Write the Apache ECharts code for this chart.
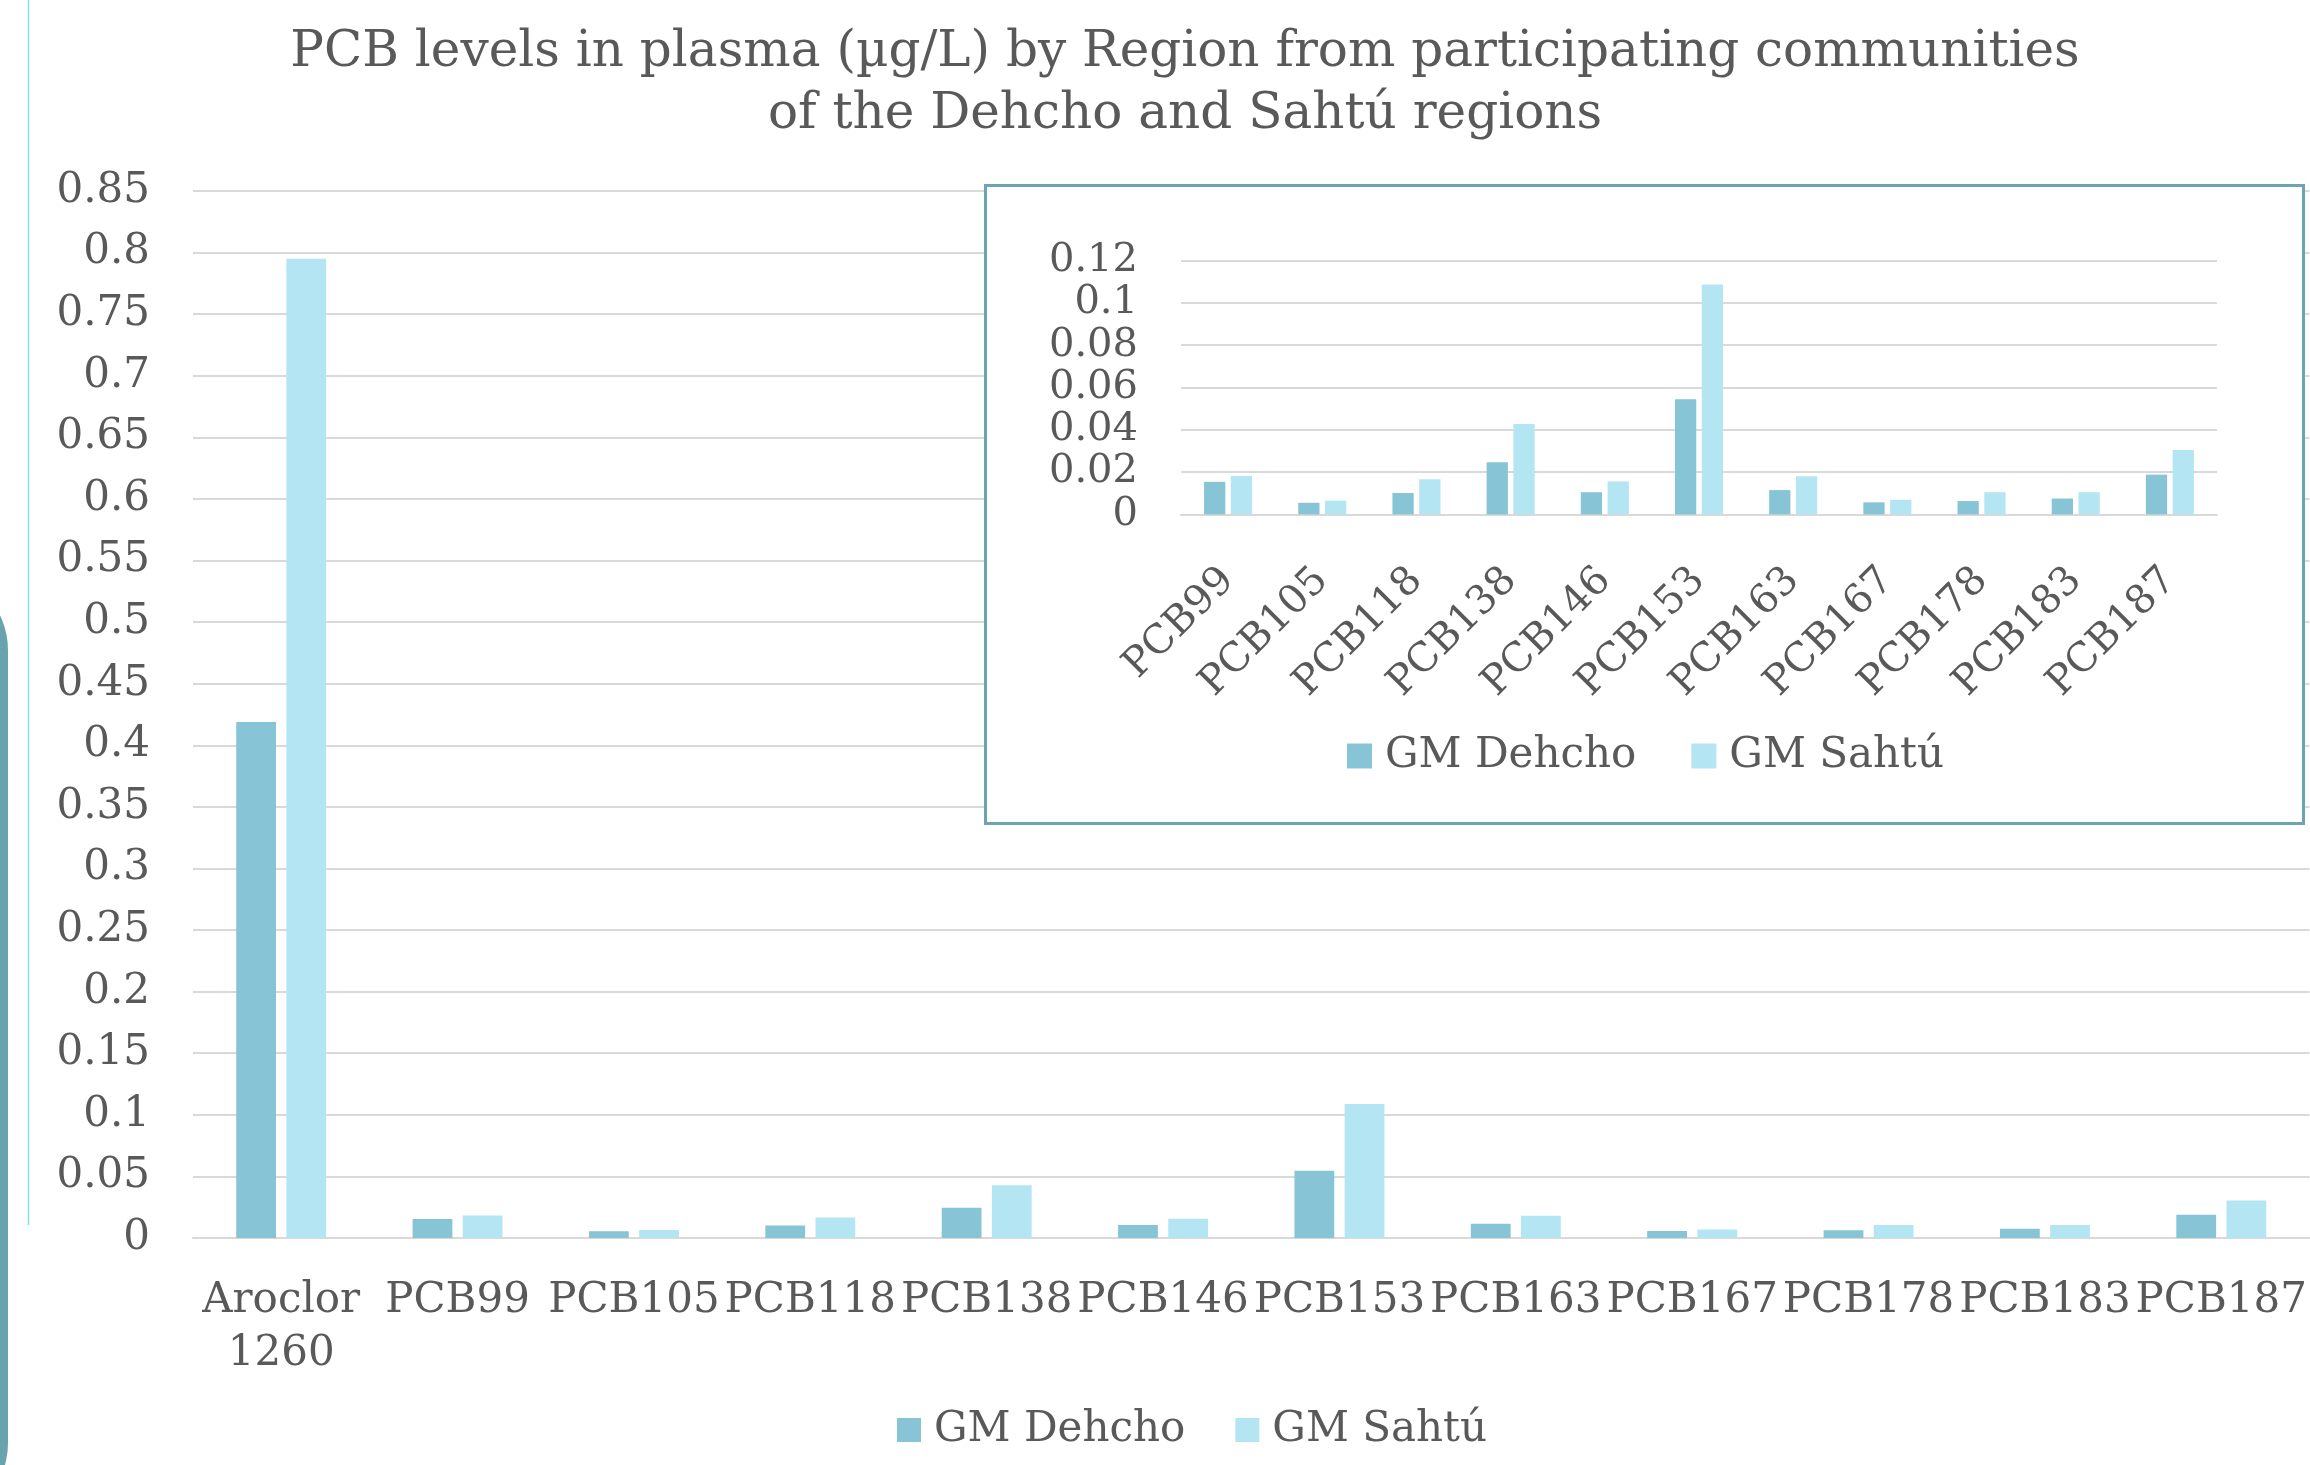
<!DOCTYPE html>
<html>
<head>
<meta charset="utf-8">
<title>PCB levels in plasma</title>
<script src="https://cdn.jsdelivr.net/npm/echarts@6/dist/echarts.min.js"></script>
<style>
  html, body { margin: 0; padding: 0; background: #ffffff; }
  #chart { width: 2310px; height: 1465px; }
</style>
</head>
<body>
<div id="chart"></div>
<script>
// Geometric means of PCB concentrations in plasma (µg/L)
const categories = ['Aroclor 1260', 'PCB99', 'PCB105', 'PCB118', 'PCB138', 'PCB146',
                    'PCB153', 'PCB163', 'PCB167', 'PCB178', 'PCB183', 'PCB187'];
const dehcho = [0.419, 0.0154, 0.0055, 0.0101, 0.0246, 0.0105, 0.0545, 0.0115, 0.0057, 0.0063, 0.0075, 0.0188];
const sahtu  = [0.795, 0.0182, 0.0065, 0.0166, 0.0428, 0.0156, 0.1087, 0.0180, 0.0069, 0.0105, 0.0105, 0.0305];
const seriesNames = ['GM Dehcho', 'GM Sahtú'];
const titleLines = ['PCB levels in plasma (µg/L) by Region from participating communities',
                    'of the Dehcho and Sahtú regions'];

// The inset zooms in on the individual congeners (everything except Aroclor 1260)
const insetCategories = categories.slice(1);
const insetDehcho = dehcho.slice(1);
const insetSahtu = sahtu.slice(1);

const FONT = 'DejaVu Serif';
const TEXT = '#595959';
const GRID_LINE = '#d9d9d9';
const C_DEHCHO = '#87c4d5';
const C_SAHTU = '#b4e5f2';
const TEAL = '#6ca5b2';

const chart = echarts.init(document.getElementById('chart'), null, { renderer: 'canvas' });

const barCommon = { barGap: '26%', barCategoryGap: '49%' };

chart.setOption({
  backgroundColor: '#ffffff',
  animation: false,
  color: [C_DEHCHO, C_SAHTU],
  title: {
    text: titleLines.join('\n'),
    left: 1185,
    top: 22,
    textAlign: 'center',
    padding: 0,
    textStyle: { fontFamily: FONT, fontSize: 50, fontWeight: 'normal', color: TEXT, lineHeight: 62 }
  },
  legend: [
    {
      data: seriesNames,
      left: 897, top: 1409,
      padding: 0,
      itemWidth: 24, itemHeight: 24, itemGap: 50,
      icon: 'rect',
      textStyle: { fontFamily: FONT, fontSize: 42, color: TEXT, padding: [0, 0, 0, 8] }
    },
    {
      data: seriesNames,
      left: 1347, top: 735,
      padding: 0,
      itemWidth: 25, itemHeight: 25, itemGap: 55,
      icon: 'rect',
      z: 8,
      textStyle: { fontFamily: FONT, fontSize: 42, color: TEXT, padding: [0, 0, 0, 8] }
    }
  ],
  graphic: [
    // page decorations on the left edge
    { type: 'line', z: 1, shape: { x1: 28.5, y1: 0, x2: 28.5, y2: 1225 },
      style: { stroke: '#82def5', lineWidth: 1.5 } },
    { type: 'rect', z: 1, shape: { x: -192, y: 570, width: 200, height: 953, r: 80 },
      style: { fill: '#6aa3b0' } },
    // framed panel behind the inset chart
    { type: 'rect', z: 5, shape: { x: 985.5, y: 185.5, width: 1318, height: 638 },
      style: { fill: '#ffffff', stroke: TEAL, lineWidth: 3 } }
  ],
  grid: [
    { left: 193, right: 0, top: 191, bottom: 227, containLabel: false },
    { left: 1181, top: 260.6, width: 1036, height: 253.8, containLabel: false }
  ],
  xAxis: [
    {
      type: 'category', gridIndex: 0, data: categories,
      axisLine: { lineStyle: { color: GRID_LINE, width: 2 } },
      axisTick: { show: false },
      axisLabel: {
        interval: 0, margin: 37,
        fontFamily: FONT, fontSize: 42, color: TEXT, lineHeight: 53,
        formatter: v => v.replace(' ', '\n')
      }
    },
    {
      type: 'category', gridIndex: 1, data: insetCategories, z: 6,
      axisLine: { lineStyle: { color: GRID_LINE, width: 2 } },
      axisTick: { show: false },
      axisLabel: {
        interval: 0, rotate: 45, margin: 60,
        fontFamily: FONT, fontSize: 40, color: TEXT
      }
    }
  ],
  yAxis: [
    {
      type: 'value', gridIndex: 0, min: 0, max: 0.85, interval: 0.05,
      axisLine: { show: false }, axisTick: { show: false },
      splitLine: { lineStyle: { color: GRID_LINE, width: 2 } },
      axisLabel: { margin: 43, fontFamily: FONT, fontSize: 42, color: TEXT }
    },
    {
      type: 'value', gridIndex: 1, min: 0, max: 0.12, interval: 0.02, z: 6,
      axisLine: { show: false }, axisTick: { show: false },
      splitLine: { lineStyle: { color: GRID_LINE, width: 2 } },
      axisLabel: { margin: 43, fontFamily: FONT, fontSize: 40, color: TEXT }
    }
  ],
  series: [
    { name: seriesNames[0], type: 'bar', xAxisIndex: 0, yAxisIndex: 0, data: dehcho,
      itemStyle: { color: C_DEHCHO }, ...barCommon },
    { name: seriesNames[1], type: 'bar', xAxisIndex: 0, yAxisIndex: 0, data: sahtu,
      itemStyle: { color: C_SAHTU }, ...barCommon },
    { name: seriesNames[0], type: 'bar', xAxisIndex: 1, yAxisIndex: 1, data: insetDehcho, z: 7,
      itemStyle: { color: C_DEHCHO }, ...barCommon },
    { name: seriesNames[1], type: 'bar', xAxisIndex: 1, yAxisIndex: 1, data: insetSahtu, z: 7,
      itemStyle: { color: C_SAHTU }, ...barCommon }
  ]
});
</script>
</body>
</html>
